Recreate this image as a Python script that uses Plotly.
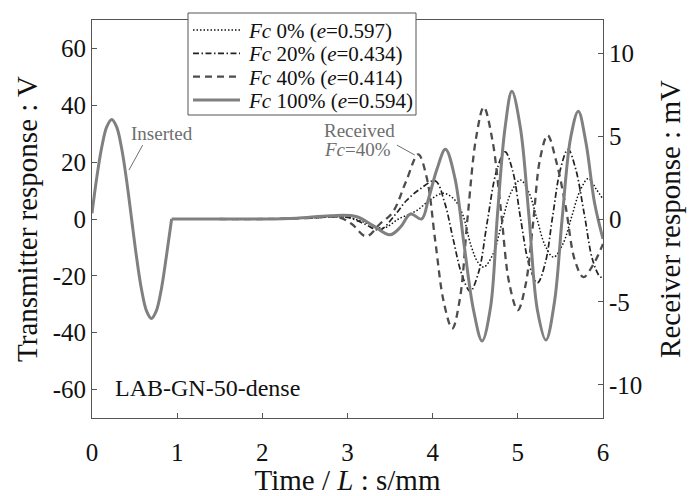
import plotly.graph_objects as go

# ---- data ----
t_ins = [0.0, 0.058, 0.116, 0.174, 0.2325, 0.29, 0.349, 0.407, 0.465, 0.523, 0.581, 0.64, 0.6975, 0.755, 0.814, 0.872, 0.935]
v_ins = [2.0, 15.0, 25.5, 32.5, 35.0, 32.3, 24.7, 13.4, 0.0, -13.4, -24.7, -32.3, -35.0, -32.3, -24.7, -13.4, 0.0]

t_100 = [0.935, 1.5, 2.0, 2.4, 2.8, 3.1, 3.3, 3.5, 3.62, 3.74, 3.87, 3.95, 4.05, 4.15, 4.26, 4.37, 4.48, 4.58, 4.68,
         4.76, 4.85, 4.93, 5.03, 5.13, 5.23, 5.33, 5.43, 5.52, 5.62, 5.71, 5.80, 5.90, 6.0]
v_100 = [0.0, 0.0, 0.0, 0.05, 0.2, 0.15, -0.4, -0.95, -0.5, 0.3, 0.0, 1.2, 3.0, 4.2, 2.5, -1.6, -5.5, -7.35, -5.3,
         0.2, 5.5, 7.7, 5.5, 0.2, -5.5, -7.3, -5.0, 0.0, 4.9, 6.5, 4.6, 1.0, -1.2]

t_40 = [1.5, 2.0, 2.5, 2.9, 3.05, 3.22, 3.38, 3.53, 3.69, 3.83, 3.93, 4.03, 4.13, 4.23, 4.32, 4.41, 4.51, 4.60, 4.70,
        4.80, 4.90, 5.0, 5.09, 5.18, 5.26, 5.35, 5.45, 5.56, 5.67, 5.77, 5.88, 6.0]
v_40 = [0.0, 0.0, 0.05, 0.1, -0.3, -1.05, -0.3, 0.4, 2.3, 3.9, 2.5, -1.3, -5.0, -6.6, -4.8, 0.1, 4.9, 6.75, 4.8,
        0.6, -3.9, -5.5, -4.0, -0.2, 3.6, 5.05, 3.5, 0.8, -2.5, -3.5, -2.8, -1.5]

t_20 = [1.5, 2.0, 2.5, 3.0, 3.2, 3.38, 3.55, 3.69, 3.85, 4.03, 4.14, 4.24, 4.34, 4.44, 4.54, 4.64, 4.75, 4.85, 4.94,
        5.03, 5.13, 5.23, 5.32, 5.41, 5.50, 5.59, 5.68, 5.78, 5.88, 5.97, 6.0]
v_20 = [0.0, 0.0, 0.05, 0.1, -0.3, -0.66, 0.2, 1.1, 1.8, 2.3, 1.0, -1.2, -3.3, -4.35, -3.2, -0.2, 2.9, 4.05, 2.9,
        0.1, -2.7, -3.85, -2.7, 0.2, 3.0, 4.2, 3.0, 0.3, -2.5, -3.5, -3.4]

t_0 = [1.5, 2.0, 2.5, 3.0, 3.2, 3.42, 3.6, 3.81, 3.98, 4.13, 4.25, 4.35, 4.45, 4.53, 4.60, 4.71, 4.81, 4.92, 5.03,
       5.13, 5.22, 5.32, 5.42, 5.53, 5.63, 5.73, 5.83, 5.92, 6.0]
v_0 = [0.0, 0.0, 0.05, 0.1, -0.2, -0.55, 0.0, 0.5, 1.2, 1.55, 1.2, 0.3, -1.6, -2.6, -2.9, -2.1, -0.3, 1.6, 2.35,
       1.6, 0.1, -1.6, -2.3, -1.5, 0.1, 1.7, 2.45, 1.8, 1.2]

names = ["<i>Fc</i> 0% (<i>e</i>=0.597)", "<i>Fc</i> 20% (<i>e</i>=0.434)",
         "<i>Fc</i> 40% (<i>e</i>=0.414)", "<i>Fc</i> 100% (<i>e</i>=0.594)"]

left_ticks = [-60, -40, -20, 0, 20, 40, 60]
right_ticks = [-10, -5, 0, 5, 10]
x_ticks = [0, 1, 2, 3, 4, 5, 6]

FONT = "Liberation Serif, Times New Roman, serif"
GRAY = "#808080"
AX = "#555555"
ANN = "#6e6e6e"

styles = [
    dict(color="#111111", width=1.5, dash="1.5px,2px"),
    dict(color="#222222", width=1.7, dash="6px,2.5px,1.5px,2.5px"),
    dict(color="#4d4d4d", width=2.3, dash="7px,5px"),
    dict(color=GRAY, width=3, dash="solid"),
]

fig = go.Figure()
for (tx, vy), nm, st in zip([(t_0, v_0), (t_20, v_20), (t_40, v_40), (t_100, v_100)], names, styles):
    fig.add_trace(go.Scatter(x=tx, y=vy, yaxis="y2", name=nm, mode="lines", showlegend=False,
                             line=dict(shape="spline", smoothing=1.0, **st)))
fig.add_trace(go.Scatter(x=t_ins, y=v_ins, yaxis="y", showlegend=False, mode="lines",
                         line=dict(color=GRAY, width=3, shape="spline", smoothing=1.0)))

# plot area in pixels
L, R, T, B = 92, 603, 20, 418
W, H = 699, 496


def dx(px):
    return (px - L) / (R - L)


def dy(py):
    return (B - py) / (B - T)


fig.update_layout(
    width=W, height=H,
    margin=dict(l=L, r=W - R, t=T, b=H - B, autoexpand=False),
    paper_bgcolor="white", plot_bgcolor="white",
    font=dict(family=FONT, size=25, color="#111111"),
    showlegend=False,
    xaxis=dict(range=[0, 6], tickvals=x_ticks, ticktext=[str(v) for v in x_ticks],
               ticks="inside", ticklen=5, tickcolor=AX, ticklabelstandoff=12, automargin=False,
               showline=True, linecolor=AX, linewidth=1, mirror=True, showgrid=False, zeroline=False,
               title=dict(text="Time / <i>L</i> : s/mm", font=dict(size=29), standoff=11),
               tickfont=dict(size=25)),
    yaxis=dict(range=[-70, 70], tickvals=left_ticks, ticktext=[str(v) for v in left_ticks],
               ticks="inside", ticklen=5, tickcolor=AX, automargin=False,
               showline=True, linecolor=AX, linewidth=1, showgrid=False, zeroline=False,
               title=dict(text="Transmitter response : V", font=dict(size=29), standoff=6),
               tickfont=dict(size=25)),
    yaxis2=dict(range=[-12, 12], tickvals=right_ticks, ticktext=[str(v) for v in right_ticks],
                overlaying="y", side="right", automargin=False,
                ticks="inside", ticklen=5, tickcolor=AX,
                showline=True, linecolor=AX, linewidth=1, showgrid=False, zeroline=False,
                title=dict(text="Receiver response : mV", font=dict(size=29), standoff=18),
                tickfont=dict(size=25)),
)

# ---- legend box (drawn manually to match the compact layout) ----
fig.add_shape(type="rect", xref="x domain", yref="y domain",
              x0=dx(188), x1=dx(416), y0=dy(115), y1=dy(13),
              line=dict(color=AX, width=1), fillcolor="white", layer="above")
row_y = [30, 53.3, 76.7, 100]
for nm, st, ry in zip(names, styles, row_y):
    fig.add_shape(type="line", xref="x domain", yref="y domain",
                  x0=dx(193), x1=dx(240), y0=dy(ry), y1=dy(ry), layer="above",
                  line=dict(color=st["color"], width=st["width"], dash=st["dash"]))
    fig.add_annotation(xref="x domain", yref="y domain", x=dx(246), y=dy(ry + 1),
                       xanchor="left", yanchor="middle", text=nm, showarrow=False,
                       font=dict(family=FONT, size=21, color="#111111"))

# ---- annotations ----
fig.add_annotation(x=0.82, y=30.2, xref="x", yref="y", text="Inserted", showarrow=False,
                   font=dict(family=FONT, size=19, color=ANN))
fig.add_shape(type="line", x0=0.595, y0=26.0, x1=0.434, y1=17.2, xref="x", yref="y",
              line=dict(color=ANN, width=1))
fig.add_annotation(x=2.70, y=31.3, xref="x", yref="y", text="Received", showarrow=False,
                   xanchor="left", font=dict(family=FONT, size=19, color=ANN))
fig.add_annotation(x=2.70, y=24.3, xref="x", yref="y", text="<i>Fc</i>=40%", showarrow=False,
                   xanchor="left", font=dict(family=FONT, size=19, color=ANN))
fig.add_shape(type="line", x0=3.58, y0=26.0, x1=3.79, y1=22.5, xref="x", yref="y",
              line=dict(color=ANN, width=1))
fig.add_annotation(x=1.36, y=-59.4, xref="x", yref="y", text="LAB-GN-50-dense", showarrow=False,
                   font=dict(family=FONT, size=24, color="#111111"))

fig.write_html("out.html")
